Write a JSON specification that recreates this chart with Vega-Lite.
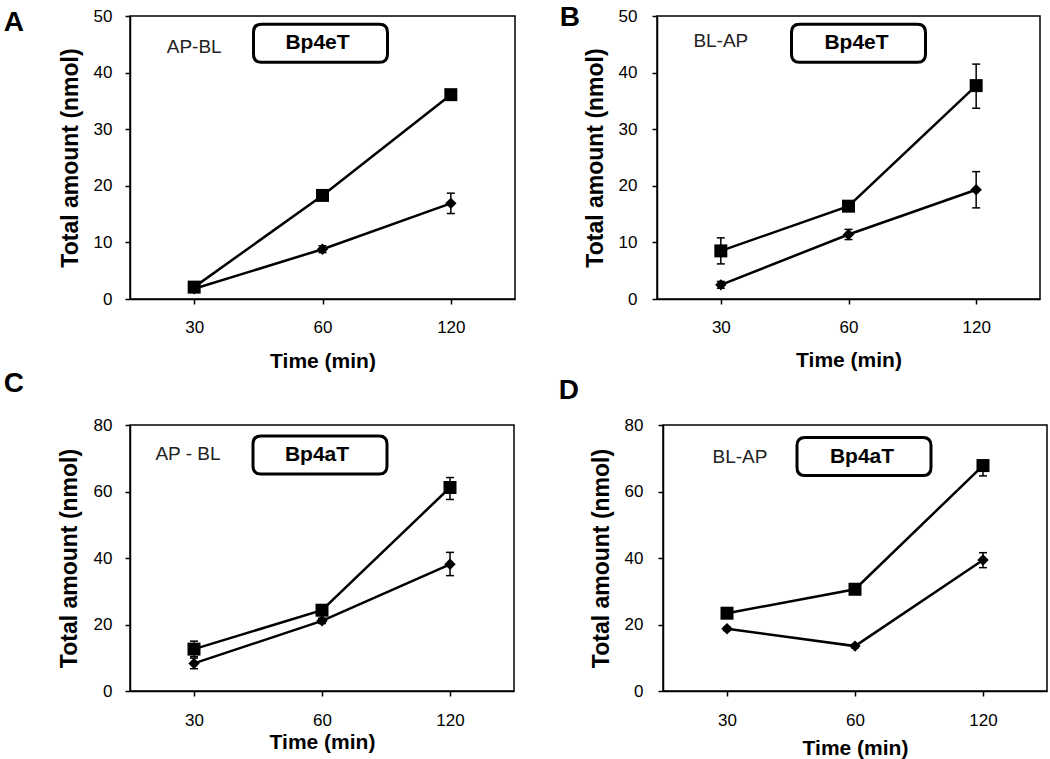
{
  "$schema": "https://vega.github.io/schema/vega-lite/v6.json",
  "padding": {"left": 2, "right": 2, "top": 3, "bottom": 2},
  "background": "white",
  "datasets": {
    "A": [
      {"t": 30, "s": "di", "v": 1.8, "lo": 1.6, "hi": 2.0},
      {"t": 60, "s": "di", "v": 8.8, "lo": 8.2, "hi": 9.4},
      {"t": 120, "s": "di", "v": 16.9, "lo": 15.1, "hi": 18.7},
      {"t": 30, "s": "sq", "v": 2.1, "lo": 1.8, "hi": 2.4},
      {"t": 60, "s": "sq", "v": 18.3, "lo": 17.8, "hi": 18.8},
      {"t": 120, "s": "sq", "v": 36.1, "lo": 35.5, "hi": 36.7}
    ],
    "B": [
      {"t": 30, "s": "di", "v": 2.5, "lo": 1.9, "hi": 3.1},
      {"t": 60, "s": "di", "v": 11.4, "lo": 10.5, "hi": 12.3},
      {"t": 120, "s": "di", "v": 19.3, "lo": 16.1, "hi": 22.5},
      {"t": 30, "s": "sq", "v": 8.5, "lo": 6.2, "hi": 10.8},
      {"t": 60, "s": "sq", "v": 16.4, "lo": 15.8, "hi": 17.0},
      {"t": 120, "s": "sq", "v": 37.7, "lo": 33.7, "hi": 41.5}
    ],
    "C": [
      {"t": 30, "s": "di", "v": 8.3, "lo": 6.7, "hi": 9.9},
      {"t": 60, "s": "di", "v": 21.1, "lo": 20.3, "hi": 21.9},
      {"t": 120, "s": "di", "v": 38.1, "lo": 34.7, "hi": 41.7},
      {"t": 30, "s": "sq", "v": 12.6, "lo": 10.3, "hi": 15.0},
      {"t": 60, "s": "sq", "v": 24.3, "lo": 23.3, "hi": 25.3},
      {"t": 120, "s": "sq", "v": 61.2, "lo": 57.6, "hi": 64.2}
    ],
    "D": [
      {"t": 30, "s": "di", "v": 18.7, "lo": 18.2, "hi": 19.2},
      {"t": 60, "s": "di", "v": 13.5, "lo": 13.0, "hi": 14.0},
      {"t": 120, "s": "di", "v": 39.4, "lo": 37.1, "hi": 41.6},
      {"t": 30, "s": "sq", "v": 23.4, "lo": 22.6, "hi": 24.2},
      {"t": 60, "s": "sq", "v": 30.6, "lo": 29.8, "hi": 31.4},
      {"t": 120, "s": "sq", "v": 67.8, "lo": 64.7, "hi": 69.3}
    ]
  },
  "vconcat": [
    {
      "hconcat": [
        {
          "width": 385, "height": 283,
          "title": {"text": "A", "orient": "left", "anchor": "end", "frame": "group", "angle": 0, "align": "right", "baseline": "top", "fontSize": 28, "fontWeight": "bold", "font": "Liberation Sans", "color": "black", "offset": 15, "dy": -7},
          "data": {"name": "A"},
          "encoding": {"x": {"field": "t", "type": "ordinal", "scale": {"type": "point", "domain": [30, 60, 120], "padding": 0.5}, "axis": {"title": "Time (min)", "labelAngle": 0, "labelPadding": 15, "titlePadding": 15}}},
          "layer": [
            {"mark": {"type": "line", "color": "black", "strokeWidth": 2.5}, "encoding": {"y": {"field": "v", "type": "quantitative", "scale": {"domain": [0, 50], "nice": false}, "axis": {"values": [0, 10, 20, 30, 40, 50], "title": "Total amount (nmol)", "labelPadding": 13, "titlePadding": 11}}, "detail": {"field": "s"}}},
            {"mark": {"type": "rule", "color": "black", "strokeWidth": 1.5}, "encoding": {"y": {"field": "lo", "type": "quantitative", "title": "Total amount (nmol)"}, "y2": {"field": "hi"}}},
            {"mark": {"type": "tick", "color": "black", "size": 8, "thickness": 1.5, "opacity": 1}, "encoding": {"y": {"field": "lo", "type": "quantitative", "title": "Total amount (nmol)"}}},
            {"mark": {"type": "tick", "color": "black", "size": 8, "thickness": 1.5, "opacity": 1}, "encoding": {"y": {"field": "hi", "type": "quantitative", "title": "Total amount (nmol)"}}},
            {"transform": [{"filter": "datum.s == 'di'"}], "mark": {"type": "point", "shape": "diamond", "size": 130, "filled": true, "color": "black", "opacity": 1}, "encoding": {"y": {"field": "v", "type": "quantitative", "title": "Total amount (nmol)"}}},
            {"transform": [{"filter": "datum.s == 'sq'"}], "mark": {"type": "point", "shape": "square", "size": 169, "filled": true, "color": "black", "opacity": 1}, "encoding": {"y": {"field": "v", "type": "quantitative", "title": "Total amount (nmol)"}}},
            {"data": {"values": [{"t": 30, "y": 44.6, "label": "AP-BL"}]}, "mark": {"type": "text", "font": "Liberation Sans", "fontSize": 19, "color": "#222", "baseline": "middle"}, "encoding": {"y": {"field": "y", "type": "quantitative", "title": "Total amount (nmol)"}, "text": {"field": "label"}}},
            {"data": {"values": [{"t": 60, "y": 45.2, "label": "Bp4eT"}]}, "mark": {"type": "point", "shape": "M-0.881,-0.284L0.881,-0.284Q1,-0.284,1,-0.164L1,0.164Q1,0.284,0.881,0.284L-0.881,0.284Q-1,0.284,-1,0.164L-1,-0.164Q-1,-0.284,-0.881,-0.284Z", "size": 17956, "filled": false, "stroke": "black", "strokeWidth": 3, "opacity": 1, "xOffset": -2}, "encoding": {"y": {"field": "y", "type": "quantitative", "title": "Total amount (nmol)"}}},
            {"data": {"values": [{"t": 60, "y": 45.2, "label": "Bp4eT"}]}, "mark": {"type": "text", "font": "Liberation Sans", "fontSize": 21, "fontWeight": "bold", "color": "black", "baseline": "middle", "xOffset": -5}, "encoding": {"y": {"field": "y", "type": "quantitative", "title": "Total amount (nmol)"}, "text": {"field": "label"}}}
          ]
        },
        {
          "width": 383, "height": 283,
          "title": {"text": "B", "orient": "left", "anchor": "end", "frame": "group", "angle": 0, "align": "right", "baseline": "top", "fontSize": 28, "fontWeight": "bold", "font": "Liberation Sans", "color": "black", "offset": -16, "dy": -12},
          "data": {"name": "B"},
          "encoding": {"x": {"field": "t", "type": "ordinal", "scale": {"type": "point", "domain": [30, 60, 120], "padding": 0.5}, "axis": {"title": "Time (min)", "labelAngle": 0, "labelPadding": 15, "titlePadding": 14}}},
          "layer": [
            {"mark": {"type": "line", "color": "black", "strokeWidth": 2.5}, "encoding": {"y": {"field": "v", "type": "quantitative", "scale": {"domain": [0, 50], "nice": false}, "axis": {"values": [0, 10, 20, 30, 40, 50], "title": "Total amount (nmol)", "labelPadding": 15, "titlePadding": 11}}, "detail": {"field": "s"}}},
            {"mark": {"type": "rule", "color": "black", "strokeWidth": 1.5}, "encoding": {"y": {"field": "lo", "type": "quantitative", "title": "Total amount (nmol)"}, "y2": {"field": "hi"}}},
            {"mark": {"type": "tick", "color": "black", "size": 8, "thickness": 1.5, "opacity": 1}, "encoding": {"y": {"field": "lo", "type": "quantitative", "title": "Total amount (nmol)"}}},
            {"mark": {"type": "tick", "color": "black", "size": 8, "thickness": 1.5, "opacity": 1}, "encoding": {"y": {"field": "hi", "type": "quantitative", "title": "Total amount (nmol)"}}},
            {"transform": [{"filter": "datum.s == 'di'"}], "mark": {"type": "point", "shape": "diamond", "size": 130, "filled": true, "color": "black", "opacity": 1}, "encoding": {"y": {"field": "v", "type": "quantitative", "title": "Total amount (nmol)"}}},
            {"transform": [{"filter": "datum.s == 'sq'"}], "mark": {"type": "point", "shape": "square", "size": 169, "filled": true, "color": "black", "opacity": 1}, "encoding": {"y": {"field": "v", "type": "quantitative", "title": "Total amount (nmol)"}}},
            {"data": {"values": [{"t": 30, "y": 45.6, "label": "BL-AP"}]}, "mark": {"type": "text", "font": "Liberation Sans", "fontSize": 19, "color": "#222", "baseline": "middle"}, "encoding": {"y": {"field": "y", "type": "quantitative", "title": "Total amount (nmol)"}, "text": {"field": "label"}}},
            {"data": {"values": [{"t": 60, "y": 45.2, "label": "Bp4eT"}]}, "mark": {"type": "point", "shape": "M-0.881,-0.284L0.881,-0.284Q1,-0.284,1,-0.164L1,0.164Q1,0.284,0.881,0.284L-0.881,0.284Q-1,0.284,-1,0.164L-1,-0.164Q-1,-0.284,-0.881,-0.284Z", "size": 17956, "filled": false, "stroke": "black", "strokeWidth": 3, "opacity": 1, "xOffset": 10}, "encoding": {"y": {"field": "y", "type": "quantitative", "title": "Total amount (nmol)"}}},
            {"data": {"values": [{"t": 60, "y": 45.2, "label": "Bp4eT"}]}, "mark": {"type": "text", "font": "Liberation Sans", "fontSize": 21, "fontWeight": "bold", "color": "black", "baseline": "middle", "xOffset": 8}, "encoding": {"y": {"field": "y", "type": "quantitative", "title": "Total amount (nmol)"}, "text": {"field": "label"}}}
          ]
        }
      ],
      "spacing": 42
    },
    {
      "hconcat": [
        {
          "width": 384, "height": 266,
          "title": {"text": "C", "orient": "left", "anchor": "end", "frame": "group", "angle": 0, "align": "right", "baseline": "top", "fontSize": 28, "fontWeight": "bold", "font": "Liberation Sans", "color": "black", "offset": 14, "dy": -55},
          "data": {"name": "C"},
          "encoding": {"x": {"field": "t", "type": "ordinal", "scale": {"type": "point", "domain": [30, 60, 120], "padding": 0.5}, "axis": {"title": "Time (min)", "labelAngle": 0, "labelPadding": 16, "titlePadding": 3}}},
          "layer": [
            {"mark": {"type": "line", "color": "black", "strokeWidth": 2.5}, "encoding": {"y": {"field": "v", "type": "quantitative", "scale": {"domain": [0, 80], "nice": false}, "axis": {"values": [0, 20, 40, 60, 80], "title": "Total amount (nmol)", "labelPadding": 13, "titlePadding": 12}}, "detail": {"field": "s"}}},
            {"mark": {"type": "rule", "color": "black", "strokeWidth": 1.5}, "encoding": {"y": {"field": "lo", "type": "quantitative", "title": "Total amount (nmol)"}, "y2": {"field": "hi"}}},
            {"mark": {"type": "tick", "color": "black", "size": 8, "thickness": 1.5, "opacity": 1}, "encoding": {"y": {"field": "lo", "type": "quantitative", "title": "Total amount (nmol)"}}},
            {"mark": {"type": "tick", "color": "black", "size": 8, "thickness": 1.5, "opacity": 1}, "encoding": {"y": {"field": "hi", "type": "quantitative", "title": "Total amount (nmol)"}}},
            {"transform": [{"filter": "datum.s == 'di'"}], "mark": {"type": "point", "shape": "diamond", "size": 130, "filled": true, "color": "black", "opacity": 1}, "encoding": {"y": {"field": "v", "type": "quantitative", "title": "Total amount (nmol)"}}},
            {"transform": [{"filter": "datum.s == 'sq'"}], "mark": {"type": "point", "shape": "square", "size": 169, "filled": true, "color": "black", "opacity": 1}, "encoding": {"y": {"field": "v", "type": "quantitative", "title": "Total amount (nmol)"}}},
            {"data": {"values": [{"t": 30, "y": 71.3, "label": "AP - BL"}]}, "mark": {"type": "text", "font": "Liberation Sans", "fontSize": 19, "color": "#222", "baseline": "middle", "xOffset": -6}, "encoding": {"y": {"field": "y", "type": "quantitative", "title": "Total amount (nmol)"}, "text": {"field": "label"}}},
            {"data": {"values": [{"t": 60, "y": 71, "label": "Bp4aT"}]}, "mark": {"type": "point", "shape": "M-0.881,-0.284L0.881,-0.284Q1,-0.284,1,-0.164L1,0.164Q1,0.284,0.881,0.284L-0.881,0.284Q-1,0.284,-1,0.164L-1,-0.164Q-1,-0.284,-0.881,-0.284Z", "size": 17956, "filled": false, "stroke": "black", "strokeWidth": 3, "opacity": 1, "xOffset": -2}, "encoding": {"y": {"field": "y", "type": "quantitative", "title": "Total amount (nmol)"}}},
            {"data": {"values": [{"t": 60, "y": 71, "label": "Bp4aT"}]}, "mark": {"type": "text", "font": "Liberation Sans", "fontSize": 21, "fontWeight": "bold", "color": "black", "baseline": "middle", "xOffset": -5}, "encoding": {"y": {"field": "y", "type": "quantitative", "title": "Total amount (nmol)"}, "text": {"field": "label"}}}
          ]
        },
        {
          "width": 384, "height": 266,
          "title": {"text": "D", "orient": "left", "anchor": "end", "frame": "group", "angle": 0, "align": "right", "baseline": "top", "fontSize": 28, "fontWeight": "bold", "font": "Liberation Sans", "color": "black", "offset": -9, "dy": -48},
          "data": {"name": "D"},
          "encoding": {"x": {"field": "t", "type": "ordinal", "scale": {"type": "point", "domain": [30, 60, 120], "padding": 0.5}, "axis": {"title": "Time (min)", "labelAngle": 0, "labelPadding": 16, "titlePadding": 9}}},
          "layer": [
            {"mark": {"type": "line", "color": "black", "strokeWidth": 2.5}, "encoding": {"y": {"field": "v", "type": "quantitative", "scale": {"domain": [0, 80], "nice": false}, "axis": {"values": [0, 20, 40, 60, 80], "title": "Total amount (nmol)", "labelPadding": 15, "titlePadding": 11}}, "detail": {"field": "s"}}},
            {"mark": {"type": "rule", "color": "black", "strokeWidth": 1.5}, "encoding": {"y": {"field": "lo", "type": "quantitative", "title": "Total amount (nmol)"}, "y2": {"field": "hi"}}},
            {"mark": {"type": "tick", "color": "black", "size": 8, "thickness": 1.5, "opacity": 1}, "encoding": {"y": {"field": "lo", "type": "quantitative", "title": "Total amount (nmol)"}}},
            {"mark": {"type": "tick", "color": "black", "size": 8, "thickness": 1.5, "opacity": 1}, "encoding": {"y": {"field": "hi", "type": "quantitative", "title": "Total amount (nmol)"}}},
            {"transform": [{"filter": "datum.s == 'di'"}], "mark": {"type": "point", "shape": "diamond", "size": 130, "filled": true, "color": "black", "opacity": 1}, "encoding": {"y": {"field": "v", "type": "quantitative", "title": "Total amount (nmol)"}}},
            {"transform": [{"filter": "datum.s == 'sq'"}], "mark": {"type": "point", "shape": "square", "size": 169, "filled": true, "color": "black", "opacity": 1}, "encoding": {"y": {"field": "v", "type": "quantitative", "title": "Total amount (nmol)"}}},
            {"data": {"values": [{"t": 30, "y": 70.4, "label": "BL-AP"}]}, "mark": {"type": "text", "font": "Liberation Sans", "fontSize": 19, "color": "#222", "baseline": "middle", "xOffset": 13}, "encoding": {"y": {"field": "y", "type": "quantitative", "title": "Total amount (nmol)"}, "text": {"field": "label"}}},
            {"data": {"values": [{"t": 60, "y": 70.5, "label": "Bp4aT"}]}, "mark": {"type": "point", "shape": "M-0.881,-0.284L0.881,-0.284Q1,-0.284,1,-0.164L1,0.164Q1,0.284,0.881,0.284L-0.881,0.284Q-1,0.284,-1,0.164L-1,-0.164Q-1,-0.284,-0.881,-0.284Z", "size": 17956, "filled": false, "stroke": "black", "strokeWidth": 3, "opacity": 1, "xOffset": 9}, "encoding": {"y": {"field": "y", "type": "quantitative", "title": "Total amount (nmol)"}}},
            {"data": {"values": [{"t": 60, "y": 70.5, "label": "Bp4aT"}]}, "mark": {"type": "text", "font": "Liberation Sans", "fontSize": 21, "fontWeight": "bold", "color": "black", "baseline": "middle", "xOffset": 7}, "encoding": {"y": {"field": "y", "type": "quantitative", "title": "Total amount (nmol)"}, "text": {"field": "label"}}}
          ]
        }
      ],
      "spacing": 42
    }
  ],
  "spacing": -3,
  "config": {
    "font": "Liberation Sans",
    "view": {"stroke": "black", "strokeWidth": 1.5},
    "axis": {
      "grid": false,
      "domainColor": "black", "domainWidth": 1.5,
      "tickColor": "black", "tickWidth": 1.5, "tickSize": 5,
      "labelColor": "black", "labelFont": "Liberation Sans", "labelFontSize": 17, "labelFontWeight": "normal",
      "titleColor": "black", "titleFont": "Liberation Sans", "titleFontWeight": "bold"
    },
    "axisX": {"titleFontSize": 21},
    "axisY": {"titleFontSize": 23}
  }
}
